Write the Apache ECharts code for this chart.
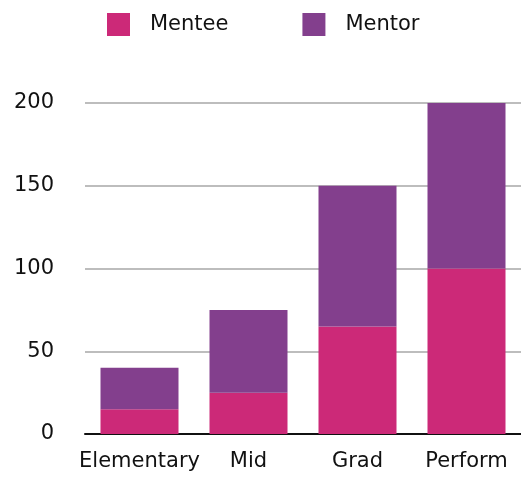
<!DOCTYPE html>
<html>
<head>
<meta charset="utf-8">
<script src="https://cdn.jsdelivr.net/npm/echarts@6/dist/echarts.min.js"></script>
<style>
  html, body { margin: 0; padding: 0; background: #fff; }
  #main { width: 521px; height: 477px; }
</style>
</head>
<body>
<div id="main"></div>
<script>
// categories and values
var categories = ['Elementary', 'Mid', 'Grad', 'Perform'];
var mentee = [15, 25, 65, 100];
var mentor = [25, 50, 85, 100];
var yTicks = [0, 50, 100, 150, 200];

var chart = echarts.init(document.getElementById('main'));

var font = 'DejaVu Sans';

chart.setOption({
    animation: false,
    color: ['#cc2978', '#833f8d'],
    legend: {
        left: 102,
        top: 8,
        icon: 'rect',
        itemWidth: 23,
        itemHeight: 23,
        itemGap: 74,
        textStyle: {
            fontFamily: font,
            fontSize: 21,
            color: '#111',
            padding: [0, 0, 0, 15]
        },
        data: ['Mentee', 'Mentor']
    },
    grid: {
        left: 85,
        right: 0,
        top: 103,
        bottom: 43
    },
    xAxis: {
        type: 'category',
        data: categories,
        axisTick: { show: false },
        axisLine: { lineStyle: { color: '#111', width: 2 } },
        axisLabel: {
            interval: 0,
            margin: 17,
            fontFamily: font,
            fontSize: 21,
            color: '#111'
        }
    },
    yAxis: {
        type: 'value',
        min: yTicks[0],
        max: yTicks[yTicks.length - 1],
        interval: 50,
        axisLine: { show: false },
        axisTick: { show: false },
        splitLine: { lineStyle: { color: '#bdbdbd', width: 2 } },
        axisLabel: {
            margin: 31,
            fontFamily: font,
            fontSize: 21,
            color: '#111'
        }
    },
    series: [
        {
            name: 'Mentee',
            type: 'bar',
            stack: 'total',
            barWidth: 78,
            data: mentee
        },
        {
            name: 'Mentor',
            type: 'bar',
            stack: 'total',
            barWidth: 78,
            data: mentor
        }
    ]
});
</script>
</body>
</html>
